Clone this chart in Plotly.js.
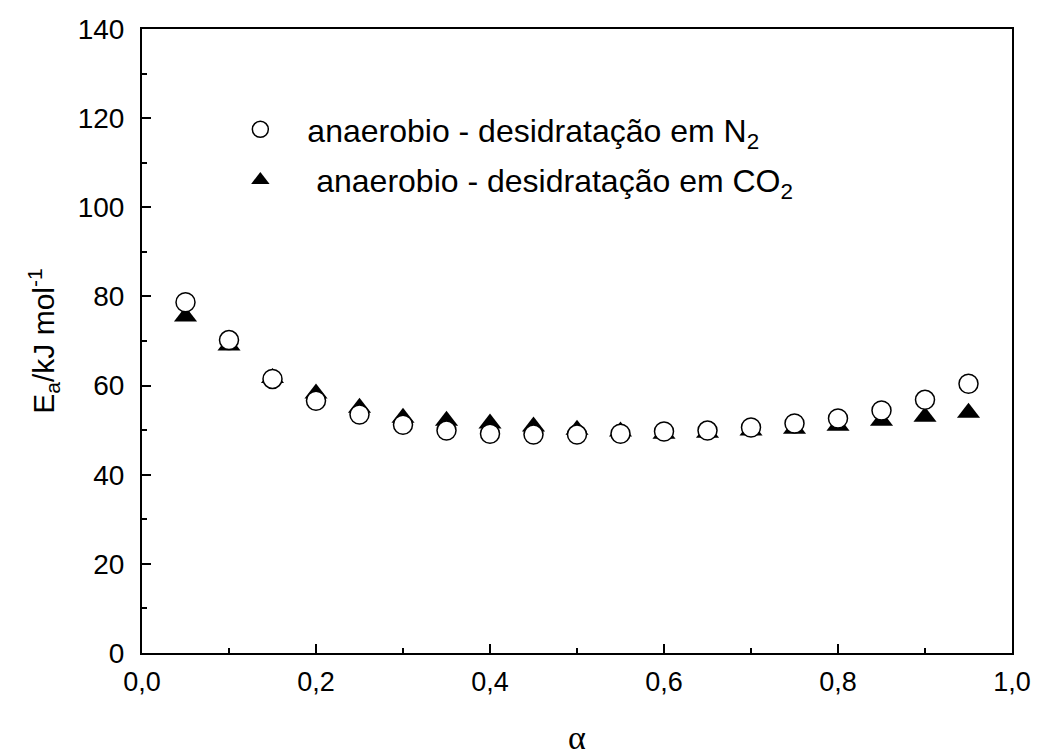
<!DOCTYPE html>
<html><head><meta charset="utf-8">
<script src="https://cdn.plot.ly/plotly-3.0.1.min.js"></script>
<style>body{margin:0;background:#fff}</style>
</head><body><div id="chart" style="width:1043px;height:756px"></div>
<script>
const alpha = [0.05,0.10,0.15,0.20,0.25,0.30,0.35,0.40,0.45,0.50,0.55,0.60,0.65,0.70,0.75,0.80,0.85,0.90,0.95];
const eaN2  = [78.7,70.2,61.5,56.6,53.5,51.2,49.9,49.2,49.0,49.0,49.2,49.7,49.9,50.6,51.5,52.6,54.4,56.8,60.4];
const eaCO2 = [75.5,69.0,61.7,58.2,55.0,52.8,52.1,51.5,50.8,50.1,49.7,49.2,49.4,49.9,50.3,51.0,52.1,53.0,53.9];
const nameN2 = 'anaerobio - desidratação em N<sub>2</sub>';
const nameCO2 = ' anaerobio - desidratação em CO<sub>2</sub>';
const xTicks = [0,0.2,0.4,0.6,0.8,1.0];
const xTickText = ['0,0','0,2','0,4','0,6','0,8','1,0'];

const SANS = 'Liberation Sans, Arial, sans-serif';
const traces = [
  {x: alpha, y: eaCO2, name: nameCO2, legendgroup: 'b', legendrank: 2, mode: 'markers', type: 'scatter',
   marker: {symbol: 'triangle-up', size: 20, color: '#000', line: {width: 0}}},
  {x: alpha, y: eaN2, name: nameN2, legendgroup: 'a', legendrank: 1, mode: 'markers', type: 'scatter',
   marker: {symbol: 'circle', size: 19, color: '#fff', line: {width: 1.5, color: '#000'}}}
];
const layout = {
  width: 1043, height: 756,
  margin: {l: 142, r: 31, t: 29, b: 103},
  paper_bgcolor: '#fff', plot_bgcolor: '#fff',
  font: {family: SANS, size: 28, color: '#000'},
  showlegend: true,
  legend: {x: 0.082, y: 0.883, xanchor: 'left', yanchor: 'top', traceorder: 'grouped',
           font: {family: SANS, size: 32, color: '#000'}, bgcolor: 'rgba(0,0,0,0)',
           tracegroupgap: 6, itemwidth: 84},
  xaxis: {range: [0, 1], tickvals: xTicks, ticktext: xTickText, ticks: 'inside', ticklen: 9,
          tickwidth: 1.5, tickcolor: '#000', showline: true, linewidth: 2, linecolor: '#000', mirror: true,
          showgrid: false, zeroline: false, tickfont: {family: SANS, size: 27}, ticklabelstandoff: 4,
          minor: {dtick: 0.1, ticks: 'inside', ticklen: 5, tickwidth: 1.5, tickcolor: '#000'},
          title: {text: 'α', font: {family: 'Liberation Serif, Times New Roman, serif', size: 34}, standoff: 54}},
  yaxis: {range: [0, 140], dtick: 20, ticks: 'inside', ticklen: 9, tickwidth: 1.5, tickcolor: '#000',
          showline: true, linewidth: 2, linecolor: '#000', mirror: true, showgrid: false, zeroline: false,
          tickfont: {family: SANS, size: 28}, ticklabelstandoff: 10,
          minor: {dtick: 10, ticks: 'inside', ticklen: 5, tickwidth: 1.5, tickcolor: '#000'},
          title: {text: 'E<sub>a</sub>/kJ mol<sup>-1</sup>', font: {family: SANS, size: 30}, standoff: 14}}
};
Plotly.newPlot('chart', traces, layout, {displayModeBar: false});
</script></body></html>
